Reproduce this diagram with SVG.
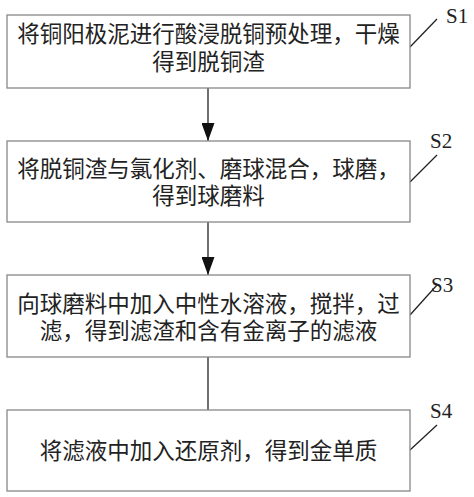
<svg xmlns="http://www.w3.org/2000/svg" width="474" height="497" viewBox="0 0 474 497">
<defs>
<marker id="ah" markerWidth="18" markerHeight="13" refX="18" refY="6.5" orient="auto" markerUnits="userSpaceOnUse" viewBox="0 0 18 13">
<path d="M0,0 L18,6.5 L0,13 Z" fill="#111"/>
</marker>
<style>
.box{fill:#fff;stroke:#888;stroke-width:1.3}
.t{font-family:"Liberation Sans","Noto Sans CJK SC","Noto Sans CJK JP",sans-serif;font-size:22.5px;fill:#222;text-anchor:middle}
.lab{font-family:"Liberation Serif",serif;font-size:21px;fill:#222}
.ln{stroke:#222;stroke-width:1.3;fill:none}
</style>
</defs>
<rect width="474" height="497" fill="#fff"/>
<g id="connectors">
<line class="ln" x1="208" y1="88" x2="208" y2="141" marker-end="url(#ah)"/>
<line class="ln" x1="208" y1="222" x2="208" y2="275" marker-end="url(#ah)"/>
<line class="ln" x1="208" y1="357" x2="208" y2="410"/>
<line class="ln" x1="410" y1="47" x2="437" y2="19"/>
<line class="ln" x1="410" y1="182" x2="437" y2="155"/>
<line class="ln" x1="410" y1="315" x2="437" y2="285"/>
<line class="ln" x1="410" y1="450" x2="437" y2="425"/>
</g>
<g id="S1">
<rect class="box" x="7" y="15" width="403" height="73"/>
<text class="t" x="208.5" y="41.5">将铜阳极泥进行酸浸脱铜预处理，干燥<tspan x="208.5" dy="28.5">得到脱铜渣</tspan></text>
<text class="lab" x="446" y="23">S1</text>
</g>
<g id="S2">
<rect class="box" x="7" y="141" width="403" height="81"/>
<text class="t" x="208.5" y="176.5">将脱铜渣与氯化剂、磨球混合，球磨，<tspan x="208.5" dy="27">得到球磨料</tspan></text>
<text class="lab" x="430" y="148">S2</text>
</g>
<g id="S3">
<rect class="box" x="7" y="275" width="403" height="82"/>
<text class="t" x="208.5" y="311.5">向球磨料中加入中性水溶液，搅拌，过<tspan x="208.5" dy="27">滤，得到滤渣和含有金离子的滤液</tspan></text>
<text class="lab" x="431" y="292">S3</text>
</g>
<g id="S4">
<rect class="box" x="7" y="410" width="403" height="81"/>
<text class="t" x="208.5" y="458.5">将滤液中加入还原剂，得到金单质</text>
<text class="lab" x="430" y="418">S4</text>
</g>
</svg>
